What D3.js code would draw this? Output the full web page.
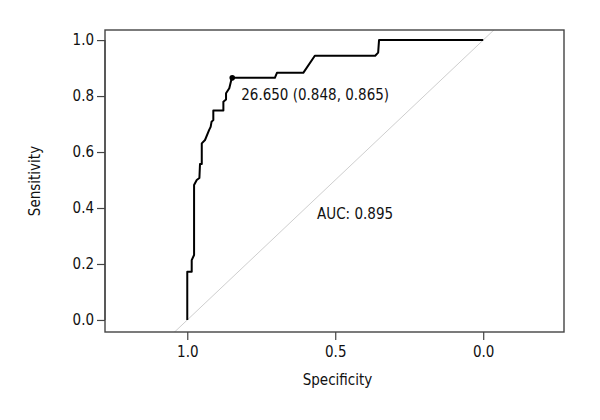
<!DOCTYPE html>
<html>
<head>
<meta charset="utf-8">
<script src="https://cdn.jsdelivr.net/npm/d3@7/dist/d3.min.js"></script>
<style>
html,body{margin:0;padding:0;background:#fff;}
text{font-family:"Liberation Sans Narrow","DejaVu Sans Condensed","Noto Sans",sans-serif;}
</style>
</head>
<body>
<svg id="chart" width="600" height="420"></svg>
<script>
// ROC curve points (specificity, sensitivity)
const specificity = [1.000,1.000,0.985,0.985,0.977,0.977,0.968,0.959,0.957,0.951,0.951,0.940,0.926,0.921,0.918,0.912,0.912,0.878,0.878,0.869,0.869,0.858,0.850,0.848,0.704,0.697,0.608,0.569,0.365,0.355,0.352,0.000];
const sensitivity = [0.000,0.172,0.172,0.214,0.232,0.482,0.500,0.507,0.557,0.557,0.631,0.643,0.679,0.690,0.708,0.714,0.748,0.748,0.780,0.788,0.810,0.828,0.863,0.865,0.865,0.883,0.883,0.944,0.944,0.955,1.000,1.000];
const xTicks = [1.0, 0.5, 0.0];
const yTicks = [0.0, 0.2, 0.4, 0.6, 0.8, 1.0];
const bestPoint = {threshold: "26.650", spec: 0.848, sens: 0.865};
const aucLabel = "AUC: 0.895";
const xTitle = "Specificity";
const yTitle = "Sensitivity";

const svg = d3.select("#chart");
const box = {left:105, right:564, top:30, bottom:332};
const x = d3.scaleLinear().domain([1.278, -0.273]).range([box.left, box.right]);
const y = d3.scaleLinear().domain([-0.043, 1.036]).range([box.bottom, box.top]);
const fontSize = 15;

svg.append("defs").append("clipPath").attr("id","clip")
  .append("rect").attr("x",box.left).attr("y",box.top)
  .attr("width",box.right-box.left).attr("height",box.bottom-box.top);

// diagonal reference line
svg.append("line")
  .attr("clip-path","url(#clip)")
  .attr("x1", x(1.5)).attr("y1", y(-0.5))
  .attr("x2", x(-0.5)).attr("y2", y(1.5))
  .attr("stroke","#c8c8c8").attr("stroke-width",0.9);

// ROC curve
const pts = specificity.map((s,i)=>[s, sensitivity[i]]);
svg.append("path")
  .datum(pts)
  .attr("fill","none").attr("stroke","#000").attr("stroke-width",2)
  .attr("stroke-linejoin","round")
  .attr("d", d3.line().x(d=>x(d[0])).y(d=>y(d[1])));

// best point
svg.append("circle")
  .attr("cx", x(bestPoint.spec)).attr("cy", y(bestPoint.sens)).attr("r",2.8)
  .attr("fill","#000");
svg.append("text")
  .attr("x", x(bestPoint.spec)+9).attr("y", y(bestPoint.sens)+22)
  .attr("font-size", fontSize).attr("fill","#111")
  .text(`${bestPoint.threshold} (${bestPoint.spec.toFixed(3)}, ${bestPoint.sens.toFixed(3)})`);

// AUC
svg.append("text")
  .attr("x", x(0.433)).attr("y", y(0.36))
  .attr("text-anchor","middle")
  .attr("font-size", fontSize).attr("fill","#111")
  .text(aucLabel);

// box
svg.append("rect")
  .attr("x",box.left).attr("y",box.top)
  .attr("width",box.right-box.left).attr("height",box.bottom-box.top)
  .attr("fill","none").attr("stroke","#444").attr("stroke-width",1.4);

// axes
const xAxis = d3.axisBottom(x).tickValues(xTicks).tickFormat(d3.format(".1f")).tickSize(8).tickSizeOuter(0).tickPadding(6);
const gx = svg.append("g").attr("transform",`translate(0,${box.bottom})`).call(xAxis);
gx.select(".domain").remove();
gx.selectAll("line").attr("stroke","#444").attr("stroke-width",1.2);
gx.selectAll("text").attr("font-size",fontSize).attr("fill","#111").attr("font-family",null);

const yAxis = d3.axisLeft(y).tickValues(yTicks).tickFormat(d3.format(".1f")).tickSize(8).tickSizeOuter(0).tickPadding(3);
const gy = svg.append("g").attr("transform",`translate(${box.left},0)`).call(yAxis);
gy.select(".domain").remove();
gy.append("line").attr("x1",0).attr("x2",0).attr("y1",y(0)).attr("y2",y(1)).attr("stroke","#444").attr("stroke-width",1.2);
gy.selectAll("line").attr("stroke","#444").attr("stroke-width",1.2);
gy.selectAll("text").attr("font-size",fontSize).attr("fill","#111").attr("font-family",null);

// titles
svg.append("text")
  .attr("x",(box.left+box.right)/2+3).attr("y",385)
  .attr("text-anchor","middle").attr("font-size",fontSize).attr("fill","#111")
  .text(xTitle);
svg.append("text")
  .attr("transform",`translate(40,${(box.top+box.bottom)/2}) rotate(-90)`)
  .attr("text-anchor","middle").attr("font-size",fontSize).attr("fill","#111")
  .text(yTitle);
</script>
</body>
</html>
